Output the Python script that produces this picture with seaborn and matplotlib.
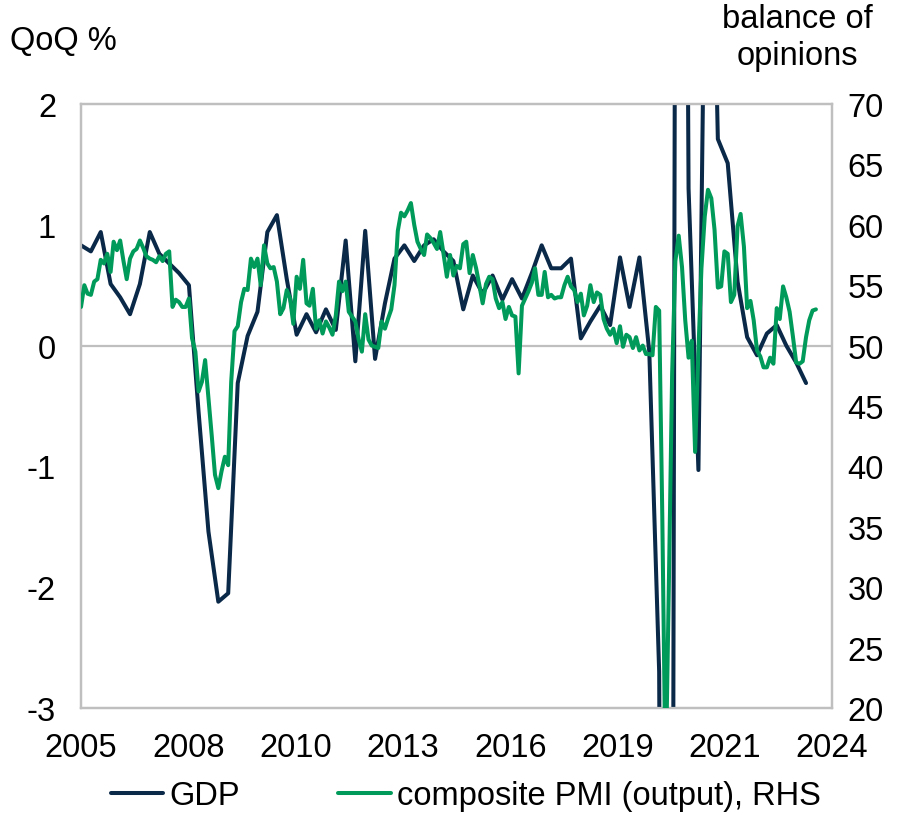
import matplotlib
matplotlib.use("Agg")
import pandas as pd
import seaborn as sns
import matplotlib.pyplot as plt
import matplotlib.dates as mdates
from matplotlib.lines import Line2D

# GDP, QoQ %, quarterly 2005Q2 - 2023Q4
gdp_start = "2005-05-01"
gdp_qoq = [
    0.83, 0.78, 0.94,                 # 2005
    0.51, 0.40, 0.26, 0.51,           # 2006
    0.94, 0.76, 0.68, 0.60,           # 2007
    0.50, -0.55, -1.54, -2.12,        # 2008
    -2.05, -0.31, 0.08, 0.28,         # 2009
    0.94, 1.08, 0.55, 0.09,           # 2010
    0.26, 0.11, 0.30, 0.13,           # 2011
    0.87, -0.13, 0.95, -0.11,         # 2012
    0.35, 0.72, 0.83, 0.70,           # 2013
    0.83, 0.88, 0.78, 0.70,           # 2014
    0.30, 0.58, 0.43, 0.58,           # 2015
    0.38, 0.55, 0.39, 0.60,           # 2016
    0.83, 0.64, 0.64, 0.72,           # 2017
    0.06, 0.20, 0.33, 0.17,           # 2018
    0.73, 0.32, 0.73, -0.05,          # 2019
    -2.7, -19.5, 16.5, 1.3,           # 2020
    -1.03, 5.5, 1.71, 1.51,           # 2021
    0.53, 0.07, -0.08, 0.10,          # 2022
    0.17, 0.0, -0.14, -0.31,          # 2023
]

# composite PMI (output), monthly May 2005 - Feb 2024
pmi_start = "2005-05-01"
pmi_composite = [
    53.2, 55.0, 54.3, 54.2, 55.3, 55.5, 57.1, 56.8,                     # 2005
    57.6, 56.1, 58.6, 57.9, 58.7, 57.0, 55.5, 57.2, 57.8, 58.0, 58.7, 58.1,  # 2006
    57.4, 57.2, 57.1, 56.9, 57.4, 57.0, 57.6, 57.8, 53.2, 53.8, 53.6, 53.2,  # 2007
    53.2, 53.9, 50.6, 49.5, 46.2, 47.0, 48.8, 45.7, 42.5, 39.3, 38.2, 39.6,  # 2008
    40.8, 40.1, 47.0, 51.2, 51.6, 53.6, 54.7, 54.6, 57.2, 56.5, 57.2, 55.0,  # 2009
    58.3, 56.8, 56.4, 56.5, 55.3, 52.6, 53.1, 54.6, 53.9, 51.8, 55.7, 54.7,  # 2010
    57.1, 53.5, 53.3, 54.7, 51.4, 52.1, 51.0, 52.0, 51.5, 50.9, 52.5, 55.3,  # 2011
    54.5, 55.3, 52.8, 52.4, 52.0, 50.5, 49.5, 52.6, 50.5, 50.0, 49.9, 49.8,  # 2012
    52.0, 51.4, 52.2, 53.0, 55.0, 59.5, 61.0, 60.7, 61.2, 61.8, 60.0, 58.6,  # 2013
    58.0, 57.5, 59.2, 58.9, 58.5, 58.0, 59.4, 57.6, 55.7, 57.5, 55.8, 56.6,  # 2014
    56.4, 58.4, 58.6, 56.0, 57.5, 56.4, 55.0, 53.5, 55.1, 55.7, 55.5, 53.9,  # 2015
    53.1, 53.6, 52.2, 53.2, 52.5, 52.4, 47.7, 53.3, 53.9, 54.5, 55.2, 56.4,  # 2016
    54.2, 54.2, 56.1, 54.0, 54.2, 53.9, 54.0, 54.0, 55.0, 55.7, 54.9, 54.6,  # 2017
    53.6, 54.3, 52.5, 53.3, 55.0, 53.6, 54.4, 54.2, 52.2, 51.4, 50.9, 51.4,  # 2018
    50.2, 51.6, 49.9, 50.9, 50.7, 49.8, 50.7, 49.6, 50.0, 49.3, 49.3, 49.2,  # 2019
    53.2, 52.9, 36.0, 13.8, 30.0, 47.7, 57.0, 59.1, 56.5, 52.1, 49.0, 50.4,  # 2020
    41.2, 49.6, 56.4, 60.7, 62.9, 62.2, 59.6, 54.8, 54.9, 57.8, 57.6, 53.6,  # 2021
    54.2, 59.9, 60.9, 58.2, 53.1, 53.7, 52.1, 49.6, 49.1, 48.2, 48.2, 49.0,  # 2022
    48.5, 53.1, 52.2, 54.9, 54.0, 52.8, 50.8, 48.6, 48.5, 48.7, 50.7, 52.1,  # 2023
    52.9, 53.0,                                                         # 2024
]

left_ticks = [-3, -2, -1, 0, 1, 2]
right_ticks = [20, 25, 30, 35, 40, 45, 50, 55, 60, 65, 70]

navy = "#0a2848"
green = "#009b5a"
grey = "#bfbfbf"
fs = 23.5
lw = 2.9

gdp_df = pd.DataFrame({"date": pd.date_range(gdp_start, periods=len(gdp_qoq), freq="3MS"),
                       "value": gdp_qoq})
pmi_df = pd.DataFrame({"date": pd.date_range(pmi_start, periods=len(pmi_composite), freq="MS"),
                       "value": pmi_composite})

sns.set_theme(style="white")
plt.rcParams["font.family"] = ["Liberation Sans", "DejaVu Sans"]
plt.rcParams["axes.unicode_minus"] = False
plt.rcParams["text.color"] = "black"

fig = plt.figure(figsize=(9.1, 8.28), dpi=100)
ax = fig.add_axes([81 / 910, 1 - 709 / 828, 751 / 910, 604 / 828])
ax2 = ax.twinx()

ax.axhline(0, color=grey, lw=1.6, zorder=1)
sns.lineplot(data=gdp_df, x="date", y="value", ax=ax, color=navy, lw=lw, legend=False, zorder=3)
sns.lineplot(data=pmi_df, x="date", y="value", ax=ax2, color=green, lw=lw, legend=False, zorder=3)

ax.set_ylim(-3, 2)
ax2.set_ylim(20, 70)
ax.set_yticks(left_ticks)
ax2.set_yticks(right_ticks)

x0 = pd.Timestamp("2005-05-01")
xticks = [x0 + pd.Timedelta(days=1000 * k) for k in range(8)]
ax.set_xlim(xticks[0], xticks[-1])
ax.xaxis.set_major_locator(matplotlib.ticker.FixedLocator(mdates.date2num(xticks)))
ax.xaxis.set_major_formatter(mdates.DateFormatter("%Y"))

for a in (ax, ax2):
    a.set_xlabel("")
    a.set_ylabel("")
    a.grid(False)
    for s in a.spines.values():
        s.set_color(grey)
        s.set_linewidth(1.6)
ax.tick_params(axis="y", length=0, labelsize=fs, pad=18, colors="black")
ax.tick_params(axis="x", length=0, labelsize=fs, pad=17, colors="black")
ax2.tick_params(axis="y", length=0, labelsize=fs, pad=11, colors="black")

fig.text(10 / 910, 1 - 42 / 828, "QoQ %", ha="left", va="center", fontsize=fs)
fig.text(797 / 910, 1 - 38 / 828, "balance of\nopinions", ha="center", va="center",
         fontsize=fs, linespacing=1.25)

handles = [Line2D([], [], color=navy, lw=lw), Line2D([], [], color=green, lw=lw)]
fig.legend(handles, ["GDP", "composite PMI (output), RHS"], loc="center",
           bbox_to_anchor=(466 / 910, 1 - 797 / 828), ncol=2, frameon=False,
           fontsize=fs, handlelength=1.6, handletextpad=0.2, columnspacing=3.0)

fig.savefig("out.png", dpi=100)
